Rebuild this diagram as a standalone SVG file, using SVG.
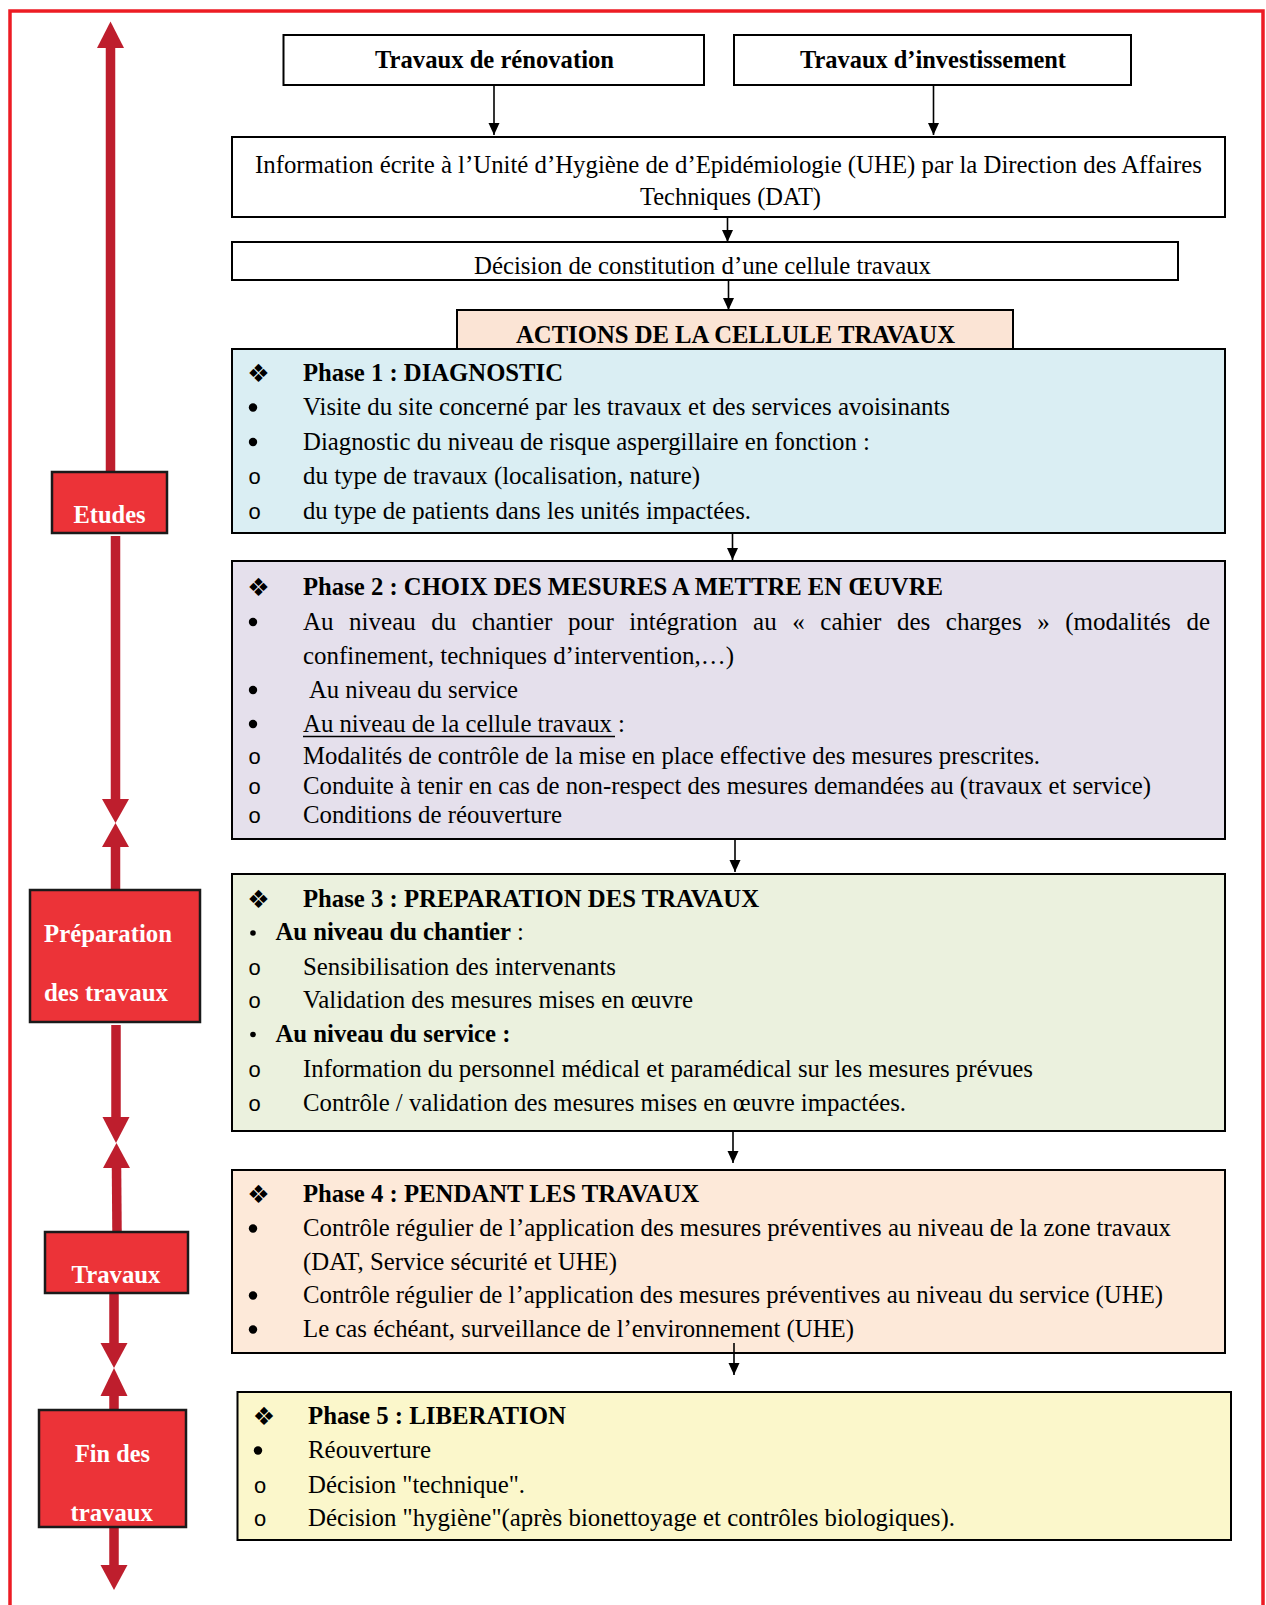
<svg xmlns="http://www.w3.org/2000/svg" width="1266" height="1605" viewBox="0 0 1266 1605">
<style>
.t{font-family:"Liberation Serif","Times New Roman",serif;font-size:25px;fill:#000}
.b{font-weight:bold}
.lbl{font-family:"Liberation Serif","Times New Roman",serif;font-size:25px;font-weight:bold;fill:#fff}
.box{stroke:#000;stroke-width:2}
.red{fill:#EC3338;stroke:#1a1a1a;stroke-width:2.5}
.shaft{stroke:#BE1E2D;stroke-width:9.5;fill:none}
.head{fill:#BE1E2D}
.conn{stroke:#000;stroke-width:1.6;fill:none;marker-end:url(#ah)}
.dia{font-family:"DejaVu Sans",sans-serif;font-size:25px;text-anchor:middle;fill:#000}
.dot{fill:#000}
.o{font-family:"Liberation Mono",monospace;font-size:22px;text-anchor:middle;fill:#000}
</style>
<defs>
<marker id="ah" markerUnits="userSpaceOnUse" markerWidth="13" markerHeight="12" refX="12" refY="5.5" orient="auto">
<path d="M0,0 L12,5.5 L0,11 Z" fill="#000"/>
</marker>
</defs>
<rect width="1266" height="1605" fill="#fff"/>
<path d="M10,1605 V11 H1263 V1605" fill="none" stroke="#ED1C24" stroke-width="3.5"/>

<g id="timeline">
<line class="shaft" x1="110.5" y1="46" x2="110.5" y2="472"/>
<polygon class="head" points="110.5,21.5 97,48 124,48"/>
<line class="shaft" x1="115.5" y1="536" x2="115.5" y2="801"/>
<polygon class="head" points="115.5,823 102,799 129,799"/>
<polygon class="head" points="115.5,823 102,847 129,847"/>
<line class="shaft" x1="115.5" y1="845" x2="115.5" y2="890"/>
<line class="shaft" x1="116" y1="1025" x2="116" y2="1119"/>
<polygon class="head" points="116,1143 102.5,1117 129.5,1117"/>
<polygon class="head" points="116.5,1143 103,1168 130,1168"/>
<line class="shaft" x1="116.5" y1="1166" x2="117" y2="1232"/>
<line class="shaft" x1="114" y1="1293" x2="114" y2="1345"/>
<polygon class="head" points="114,1368 100.5,1343 127.5,1343"/>
<polygon class="head" points="114,1368 100.5,1396 127.5,1396"/>
<line class="shaft" x1="114" y1="1394" x2="114" y2="1410"/>
<line class="shaft" x1="114" y1="1527" x2="114" y2="1567"/>
<polygon class="head" points="114,1590 100.5,1565 127.5,1565"/>
</g>

<g id="etudes">
<rect class="red" x="52" y="472" width="115" height="61"/>
<text class="lbl" x="73.5" y="523" textLength="72" lengthAdjust="spacingAndGlyphs">Etudes</text>
</g>
<g id="preparation">
<rect class="red" x="30" y="890" width="170" height="132"/>
<text class="lbl" x="44" y="942" textLength="128" lengthAdjust="spacingAndGlyphs">Préparation</text>
<text class="lbl" x="44" y="1001" textLength="124" lengthAdjust="spacingAndGlyphs">des travaux</text>
</g>
<g id="travaux">
<rect class="red" x="45" y="1232" width="143" height="61"/>
<text class="lbl" x="71.5" y="1283" textLength="89" lengthAdjust="spacingAndGlyphs">Travaux</text>
</g>
<g id="fin">
<rect class="red" x="39" y="1410" width="147" height="117"/>
<text class="lbl" x="75" y="1462" textLength="75" lengthAdjust="spacingAndGlyphs">Fin des</text>
<text class="lbl" x="70.5" y="1521" textLength="82.5" lengthAdjust="spacingAndGlyphs">travaux</text>
</g>

<g id="renovation">
<rect class="box" x="283.5" y="35" width="420.5" height="50" fill="#fff"/>
<text class="t b" x="375" y="68" textLength="239" lengthAdjust="spacingAndGlyphs">Travaux de rénovation</text>
</g>
<g id="investissement">
<rect class="box" x="734" y="35" width="397" height="50" fill="#fff"/>
<text class="t b" x="800" y="68" textLength="266" lengthAdjust="spacingAndGlyphs">Travaux d’investissement</text>
</g>
<g id="information">
<rect class="box" x="232" y="137" width="993" height="80" fill="#fff"/>
<text class="t" x="255" y="172.5" textLength="947" lengthAdjust="spacingAndGlyphs">Information écrite à l’Unité d’Hygiène de d’Epidémiologie (UHE) par la Direction des Affaires</text>
<text class="t" x="640" y="204.5" textLength="181" lengthAdjust="spacingAndGlyphs">Techniques (DAT)</text>
</g>
<g id="decision">
<rect class="box" x="232" y="242" width="946" height="38" fill="#fff"/>
<text class="t" x="474" y="274" textLength="457" lengthAdjust="spacingAndGlyphs">Décision de constitution d’une cellule travaux</text>
</g>
<g id="actions">
<rect class="box" x="457" y="310" width="556" height="45" fill="#FBE4D5"/>
<text class="t b" x="516" y="343" textLength="439" lengthAdjust="spacingAndGlyphs">ACTIONS DE LA CELLULE TRAVAUX</text>
</g>

<g id="phase1">
<rect class="box" x="232" y="349" width="993" height="184" fill="#DAEEF3"/>
<text class="dia" x="258.5" y="382">❖</text>
<text class="t b" x="303" y="381" textLength="260" lengthAdjust="spacingAndGlyphs">Phase 1 : DIAGNOSTIC</text>
<circle class="dot" cx="253" cy="407.5" r="4.2"/>
<text class="t" x="303" y="415" textLength="647" lengthAdjust="spacingAndGlyphs">Visite du site concerné par les travaux et des services avoisinants</text>
<circle class="dot" cx="253" cy="442" r="4.2"/>
<text class="t" x="303" y="449.5" textLength="567" lengthAdjust="spacingAndGlyphs">Diagnostic du niveau de risque aspergillaire en fonction :</text>
<text class="o" x="254.5" y="484">o</text>
<text class="t" x="303" y="484" textLength="397" lengthAdjust="spacingAndGlyphs">du type de travaux (localisation, nature)</text>
<text class="o" x="254.5" y="518.5">o</text>
<text class="t" x="303" y="518.5" textLength="448" lengthAdjust="spacingAndGlyphs">du type de patients dans les unités impactées.</text>
</g>

<g id="phase2">
<rect class="box" x="232" y="561" width="993" height="278" fill="#E5E0EC"/>
<text class="dia" x="258.5" y="596">❖</text>
<text class="t b" x="303" y="595" textLength="640" lengthAdjust="spacingAndGlyphs">Phase 2 : CHOIX DES MESURES A METTRE EN ŒUVRE</text>
<circle class="dot" cx="253" cy="622" r="4.2"/>
<text class="t" x="303" y="629.5" word-spacing="9.3">Au niveau du chantier pour intégration au « cahier des charges » (modalités de</text>
<text class="t" x="303" y="663.5" textLength="431" lengthAdjust="spacingAndGlyphs">confinement, techniques d’intervention,…)</text>
<circle class="dot" cx="253" cy="690" r="4.2"/>
<text class="t" x="309" y="697.5" textLength="209" lengthAdjust="spacingAndGlyphs">Au niveau du service</text>
<circle class="dot" cx="253" cy="724" r="4.2"/>
<text class="t" x="303" y="731.5" textLength="322" lengthAdjust="spacingAndGlyphs">Au niveau de la cellule travaux :</text>
<line x1="303" y1="736.5" x2="615" y2="736.5" stroke="#000" stroke-width="1.3"/>
<text class="o" x="254.5" y="764">o</text>
<text class="t" x="303" y="764" textLength="737" lengthAdjust="spacingAndGlyphs">Modalités de contrôle de la mise en place effective des mesures prescrites.</text>
<text class="o" x="254.5" y="793.5">o</text>
<text class="t" x="303" y="793.5" textLength="848" lengthAdjust="spacingAndGlyphs">Conduite à tenir en cas de non-respect des mesures demandées au (travaux et service)</text>
<text class="o" x="254.5" y="822.5">o</text>
<text class="t" x="303" y="822.5" textLength="259" lengthAdjust="spacingAndGlyphs">Conditions de réouverture</text>
</g>

<g id="phase3">
<rect class="box" x="232" y="874" width="993" height="257" fill="#EBF1DE"/>
<text class="dia" x="258.5" y="908">❖</text>
<text class="t b" x="303" y="907" textLength="456" lengthAdjust="spacingAndGlyphs">Phase 3 : PREPARATION DES TRAVAUX</text>
<circle class="dot" cx="253" cy="933" r="2.8"/>
<text class="t" x="275.5" y="940" textLength="248.5" lengthAdjust="spacingAndGlyphs"><tspan class="b">Au niveau du chantier</tspan> :</text>
<text class="o" x="254.5" y="975">o</text>
<text class="t" x="303" y="975" textLength="313" lengthAdjust="spacingAndGlyphs">Sensibilisation des intervenants</text>
<text class="o" x="254.5" y="1008">o</text>
<text class="t" x="303" y="1008" textLength="390" lengthAdjust="spacingAndGlyphs">Validation des mesures mises en œuvre</text>
<circle class="dot" cx="253" cy="1034.5" r="2.8"/>
<text class="t b" x="275.5" y="1041.5" textLength="235" lengthAdjust="spacingAndGlyphs">Au niveau du service :</text>
<text class="o" x="254.5" y="1076.5">o</text>
<text class="t" x="303" y="1076.5" textLength="730" lengthAdjust="spacingAndGlyphs">Information du personnel médical et paramédical sur les mesures prévues</text>
<text class="o" x="254.5" y="1110.5">o</text>
<text class="t" x="303" y="1110.5" textLength="603" lengthAdjust="spacingAndGlyphs">Contrôle / validation des mesures mises en œuvre impactées.</text>
</g>

<g id="phase4">
<rect class="box" x="232" y="1170" width="993" height="183" fill="#FDE9D9"/>
<text class="dia" x="258.5" y="1202.5">❖</text>
<text class="t b" x="303" y="1201.5" textLength="396" lengthAdjust="spacingAndGlyphs">Phase 4 : PENDANT LES TRAVAUX</text>
<circle class="dot" cx="253" cy="1228.5" r="4.2"/>
<text class="t" x="303" y="1236" textLength="868" lengthAdjust="spacingAndGlyphs">Contrôle régulier de l’application des mesures préventives au niveau de la zone travaux</text>
<text class="t" x="303" y="1270" textLength="314" lengthAdjust="spacingAndGlyphs">(DAT, Service sécurité et UHE)</text>
<circle class="dot" cx="253" cy="1295.5" r="4.2"/>
<text class="t" x="303" y="1303" textLength="860" lengthAdjust="spacingAndGlyphs">Contrôle régulier de l’application des mesures préventives au niveau du service (UHE)</text>
<circle class="dot" cx="253" cy="1329.5" r="4.2"/>
<text class="t" x="303" y="1337" textLength="551" lengthAdjust="spacingAndGlyphs">Le cas échéant, surveillance de l’environnement (UHE)</text>
</g>

<g id="phase5">
<rect class="box" x="237.5" y="1392" width="993.5" height="148" fill="#FBF7CB"/>
<text class="dia" x="264" y="1425">❖</text>
<text class="t b" x="308" y="1424" textLength="258" lengthAdjust="spacingAndGlyphs">Phase 5 : LIBERATION</text>
<circle class="dot" cx="258" cy="1450.5" r="4.2"/>
<text class="t" x="308" y="1458" textLength="123" lengthAdjust="spacingAndGlyphs">Réouverture</text>
<text class="o" x="260" y="1492.5">o</text>
<text class="t" x="308" y="1492.5" textLength="217" lengthAdjust="spacingAndGlyphs">Décision "technique".</text>
<text class="o" x="260" y="1526">o</text>
<text class="t" x="308" y="1526" textLength="647" lengthAdjust="spacingAndGlyphs">Décision "hygiène"(après bionettoyage et contrôles biologiques).</text>
</g>

<g id="connectors">
<line class="conn" x1="494" y1="85" x2="494" y2="135"/>
<line class="conn" x1="933.5" y1="85" x2="933.5" y2="135"/>
<line class="conn" x1="727.5" y1="217" x2="727.5" y2="242"/>
<line class="conn" x1="728.5" y1="280" x2="728.5" y2="310"/>
<line class="conn" x1="732.5" y1="533" x2="732.5" y2="560"/>
<line class="conn" x1="735" y1="839" x2="735" y2="872"/>
<line class="conn" x1="733" y1="1131" x2="733" y2="1163"/>
<line class="conn" x1="734" y1="1343" x2="734" y2="1375"/>
</g>
</svg>
